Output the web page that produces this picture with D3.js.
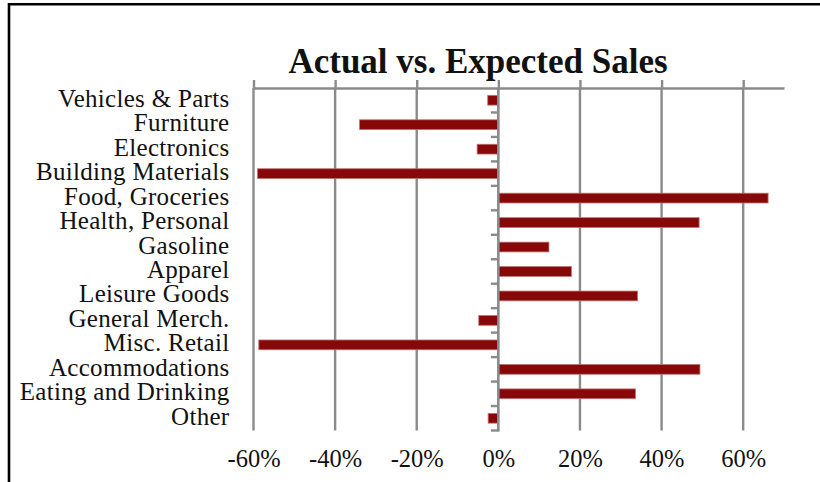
<!DOCTYPE html>
<html>
<head>
<meta charset="utf-8">
<script src="https://cdn.jsdelivr.net/npm/d3@7"></script>
<style>
  html, body { margin: 0; padding: 0; background: #fff; }
  svg { display: block; }
  text { font-family: "Liberation Serif", "DejaVu Serif", serif; fill: #111; }
</style>
</head>
<body>
<svg id="chart" width="820" height="482"></svg>
<script>
const title = "Actual vs. Expected Sales";
const categories = [
  "Vehicles & Parts", "Furniture", "Electronics", "Building Materials",
  "Food, Groceries", "Health, Personal", "Gasoline", "Apparel",
  "Leisure Goods", "General Merch.", "Misc. Retail", "Accommodations",
  "Eating and Drinking", "Other"
];
const values = [-2.6, -34, -5.2, -59, 66.1, 49.2, 12.4, 17.9, 34.1, -4.8, -58.7, 49.4, 33.6, -2.5];
const tickValues = [-60, -40, -20, 0, 20, 40, 60];
const domainX = [-60, 70];

const svg = d3.select("#chart");
const x = d3.scaleLinear().domain(domainX).range([253.5, 784]);
const y = d3.scaleBand().domain(categories).range([88, 430.5]).paddingInner(0.6).paddingOuter(0.3);
const gridColor = "#8a8a8a";

// outer border (top and left)
svg.append("path")
  .attr("d", d3.line()([[9, 482], [9, 4.2], [820, 4.2]]))
  .attr("fill", "none").attr("stroke", "#000").attr("stroke-width", 2.6);

// title
svg.append("text")
  .attr("x", 478).attr("y", 72.7)
  .attr("text-anchor", "middle")
  .style("font-size", "35px").style("font-weight", "bold")
  .text(title);

// vertical gridlines
svg.append("g").selectAll("line")
  .data(tickValues.filter(d => d !== 0))
  .join("line")
  .attr("x1", d => x(d)).attr("x2", d => x(d))
  .attr("y1", 88).attr("y2", 430.5)
  .attr("stroke", gridColor).attr("stroke-width", 2.4);

// bars
const data = categories.map((c, i) => ({ c, v: values[i] }));
svg.append("g").selectAll("rect")
  .data(data)
  .join("rect")
  .attr("x", d => x(Math.min(0, d.v)))
  .attr("width", d => Math.abs(x(d.v) - x(0)))
  .attr("y", d => y(d.c))
  .attr("height", y.bandwidth())
  .attr("fill", "#870808")
  .attr("stroke", "#c27272").attr("stroke-width", 0.8);

// top value axis (line + upward ticks)
const topAxis = svg.append("g")
  .attr("transform", "translate(0,88)")
  .call(d3.axisTop(x).tickValues(tickValues).tickSize(8).tickSizeOuter(0).tickFormat(""));
topAxis.select(".domain").attr("stroke", gridColor).attr("stroke-width", 2.6);
topAxis.selectAll(".tick line").attr("stroke", gridColor).attr("stroke-width", 2.4);

// category axis at x=0 with boundary ticks
const boundaries = categories.map(c => y(c) - y.step() * y.paddingOuter()).concat([430.5]);
svg.append("g").selectAll("line")
  .data(boundaries.slice(1))
  .join("line")
  .attr("x1", x(0) - 7.5).attr("x2", x(0))
  .attr("y1", d => d).attr("y2", d => d)
  .attr("stroke", gridColor).attr("stroke-width", 2.4);
svg.append("line")
  .attr("x1", x(0)).attr("x2", x(0))
  .attr("y1", 88).attr("y2", 431.5)
  .attr("stroke", gridColor).attr("stroke-width", 2.6);

// category labels
svg.append("g").selectAll("text")
  .data(categories)
  .join("text")
  .attr("x", 229.5)
  .attr("y", d => y(d) + y.bandwidth() / 2 + 6.5)
  .attr("text-anchor", "end")
  .style("font-size", "25px")
  .style("letter-spacing", "0.3px")
  .text(d => d);

// bottom tick labels
const bottom = svg.append("g")
  .attr("transform", "translate(0,467)")
  .call(d3.axisBottom(x).tickValues(tickValues).tickSize(0).tickPadding(0).tickFormat(d => d + "%"));
bottom.select(".domain").remove();
bottom.selectAll("text")
  .attr("dy", 0)
  .style("font-size", "24.5px")
  .style("font-family", "'Liberation Serif', serif")
  .attr("fill", "#111");
</script>
</body>
</html>
